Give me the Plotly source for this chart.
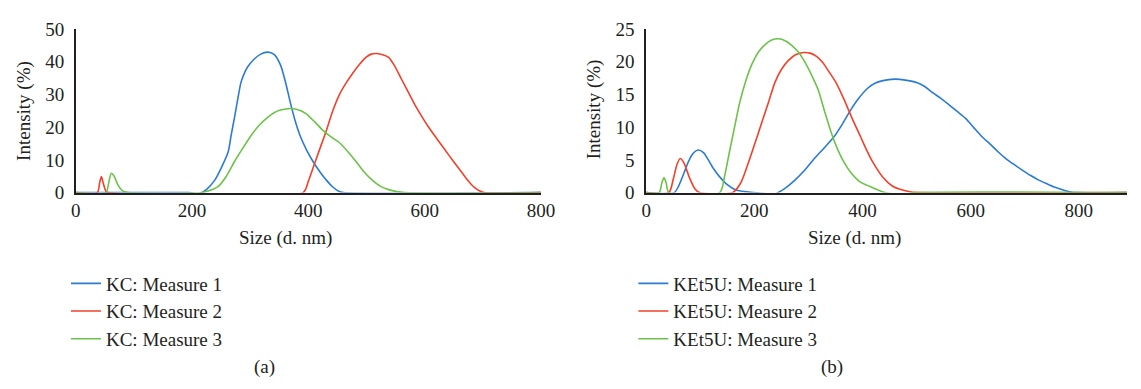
import plotly.graph_objects as go

# Panel (a): KC, intensity distributions by size
kc_m1_size = [0, 150, 195, 211, 225, 239, 250, 262, 267, 273, 279, 284, 290, 296, 307, 318, 330, 341, 352, 361, 369, 378, 386, 397, 408, 420, 431, 442, 453, 460, 800]
kc_m1_int = [0, 0, 0, -0.4, 1.0, 3.8, 7.5, 12.4, 17.3, 23.0, 29.0, 33.6, 36.5, 38.5, 40.8, 42.3, 42.9, 42.2, 39.0, 33.5, 27.5, 21.5, 17.3, 13.0, 9.5, 6.3, 3.8, 1.7, 0.3, 0, 0]

kc_m2_size = [0, 37, 41, 44, 47, 52, 55, 391, 400, 408, 420, 431, 442, 453, 465, 476, 488, 499, 508, 518, 528, 538, 549, 560, 572, 583, 595, 606, 620, 634, 648, 662, 674, 685, 695, 702, 800]
kc_m2_int = [0, 0, 3.0, 4.9, 3.0, 0.3, 0, 0, 3.5, 7.5, 13.5, 19.0, 25.0, 29.8, 33.5, 36.4, 39.2, 41.3, 42.3, 42.5, 42.1, 41.3, 38.5, 34.7, 30.6, 26.9, 23.3, 20.2, 16.7, 13.3, 9.9, 6.6, 3.8, 1.7, 0.5, 0, 0]

kc_m3_size = [0, 52, 56, 61, 66, 72, 80, 90, 217, 230, 245, 259, 273, 287, 301, 315, 330, 341, 352, 369, 386, 397, 411, 425, 439, 453, 468, 482, 496, 510, 524, 538, 552, 565, 800]
kc_m3_int = [0, 0, 2.5, 5.9, 5.0, 2.5, 0.6, 0, 0, 0.6, 1.9, 5.0, 9.5, 13.5, 17.3, 20.5, 23.0, 24.4, 25.2, 25.7, 25.1, 24.0, 21.6, 19.0, 17.0, 15.3, 12.5, 9.5, 6.3, 3.8, 1.9, 0.9, 0.3, 0, 0]

# Panel (b): KEt5U, intensity distributions by size
ke_m1_size = [0, 52, 60, 70, 78, 87, 96, 106, 115, 125, 136, 150, 166, 200, 238, 256, 275, 293, 311, 330, 348, 363, 378, 393, 409, 423, 438, 453, 469, 485, 500, 515, 529, 545, 560, 575, 591, 605, 620, 636, 651, 665, 680, 696, 711, 726, 742, 756, 771, 785, 796, 889]
ke_m1_int = [0, 0, 1.0, 3.0, 4.7, 6.0, 6.5, 6.1, 5.0, 3.6, 2.4, 1.2, 0.4, 0, -0.2, 0.6, 1.9, 3.4, 5.2, 6.9, 8.6, 10.5, 12.6, 14.4, 15.9, 16.7, 17.1, 17.3, 17.3, 17.1, 16.8, 16.2, 15.3, 14.4, 13.4, 12.4, 11.3, 10.0, 8.6, 7.4, 6.2, 5.2, 4.3, 3.4, 2.6, 1.9, 1.3, 0.8, 0.4, 0.1, 0, 0]

ke_m2_size = [0, 42, 50, 57, 63, 70, 80, 90, 99, 160, 175, 190, 203, 215, 227, 238, 250, 263, 277, 291, 303, 315, 326, 336, 351, 366, 381, 396, 407, 418, 438, 455, 469, 490, 511, 889]
ke_m2_int = [0, 0, 2.0, 4.3, 5.2, 4.5, 2.3, 0.6, 0, 0, 1.5, 4.8, 8.0, 11.0, 14.0, 16.8, 18.8, 20.2, 21.1, 21.4, 21.3, 20.8, 19.9, 18.7, 16.8, 14.2, 11.3, 8.6, 6.6, 4.8, 2.3, 1.0, 0.5, 0.1, 0, 0]

ke_m3_size = [0, 24, 29, 33, 37, 42, 136, 145, 154, 163, 172, 184, 196, 208, 220, 232, 245, 257, 269, 281, 293, 305, 318, 330, 342, 354, 366, 378, 396, 409, 438, 469, 500, 889]
ke_m3_int = [0, 0, 1.5, 2.3, 1.5, 0, 0, 2.5, 6.2, 9.8, 13.4, 17.0, 19.7, 21.5, 22.6, 23.3, 23.5, 23.2, 22.5, 21.5, 20.0, 18.1, 15.7, 12.4, 9.2, 6.6, 4.6, 3.1, 1.6, 1.1, 0.1, -0.3, 0, 0]

x_ticks_a = [0, 200, 400, 600, 800]
x_ticks_b = [0, 200, 400, 600, 800]
y_ticks_a = [0, 10, 20, 30, 40, 50]
y_ticks_b = [0, 5, 10, 15, 20, 25]

BLUE = "#2b7bd3"
RED = "#f2402a"
GREEN = "#6cc24a"
FONT = "Liberation Serif"
TXT = "#231f20"

fig = go.Figure()

def add(x, y, name, color, xa, ya, legend):
    fig.add_trace(go.Scatter(
        x=x, y=y, name=name, mode="lines",
        line=dict(color=color, width=1.6, shape="spline", smoothing=0.7),
        xaxis=xa, yaxis=ya, legend=legend,
    ))

add(kc_m1_size, kc_m1_int, "KC: Measure 1", BLUE, "x", "y", "legend")
add(kc_m2_size, kc_m2_int, "KC: Measure 2", RED, "x", "y", "legend")
add(kc_m3_size, kc_m3_int, "KC: Measure 3", GREEN, "x", "y", "legend")
add(ke_m1_size, ke_m1_int, "KEt5U: Measure 1", BLUE, "x2", "y2", "legend2")
add(ke_m2_size, ke_m2_int, "KEt5U: Measure 2", RED, "x2", "y2", "legend2")
add(ke_m3_size, ke_m3_int, "KEt5U: Measure 3", GREEN, "x2", "y2", "legend2")

W, H = 1141, 389
def px_x(p):
    return p / W
def px_y(p):
    return 1 - p / H

axis_common = dict(showgrid=False, zeroline=False, ticks="", showline=True,
                   linecolor="#231f20", linewidth=1.5,
                   tickfont=dict(family=FONT, size=19, color=TXT))

leg_common = dict(font=dict(family=FONT, size=19, color=TXT),
                  bgcolor="rgba(0,0,0,0)", borderwidth=0,
                  xanchor="left", yanchor="top", tracegroupgap=0,
                  itemwidth=30)

fig.update_layout(
    width=W, height=H,
    margin=dict(l=0, r=0, t=0, b=0),
    paper_bgcolor="white", plot_bgcolor="white",
    xaxis=dict(domain=[px_x(72), px_x(545)], range=[0, 800], tickvals=x_ticks_a,
               anchor="y", **axis_common),
    yaxis=dict(domain=[px_y(193), px_y(20)], range=[0, 50], tickvals=y_ticks_a,
               anchor="x", ticklabelstandoff=6, **axis_common),
    xaxis2=dict(domain=[px_x(652), 1.0], range=[0, 889], tickvals=x_ticks_b,
                anchor="y2", **axis_common),
    yaxis2=dict(domain=[px_y(193), px_y(20)], range=[0, 25], tickvals=y_ticks_b,
                anchor="x2", ticklabelstandoff=6, **axis_common),
    legend=dict(x=px_x(62), y=px_y(269), **leg_common),
    legend2=dict(x=px_x(639), y=px_y(269), **leg_common),
    showlegend=True,
)

ann_font = dict(family=FONT, size=19, color=TXT)
for x, y, text, angle in [
    (285, 241, "Size (d. nm)", 0),
    (864, 241, "Size (d. nm)", 0),
    (264, 377, "(a)", 0),
    (841, 377, "(b)", 0),
    (20, 107, "Intensity (%)", -90),
    (599, 105, "Intensity (%)", -90),
]:
    fig.add_annotation(x=px_x(x), y=px_y(y), xref="paper", yref="paper",
                       text=text, showarrow=False, textangle=angle,
                       xanchor="center", yanchor="middle", font=ann_font)

fig.write_html("out.html")
